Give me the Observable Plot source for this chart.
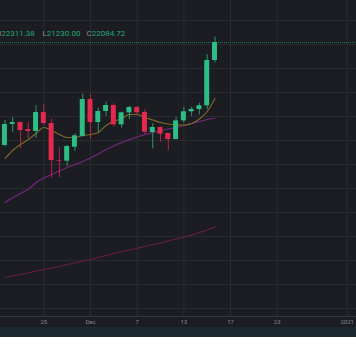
<!DOCTYPE html>
<html><head><meta charset="utf-8">
<script src="https://cdn.jsdelivr.net/npm/d3@7"></script>
<script src="https://cdn.jsdelivr.net/npm/@observablehq/plot@0.6"></script>
<style>
html,body{margin:0;padding:0;background:#ffffff;}
#wrap{position:relative;width:356px;background:#1c1d22;overflow:hidden;}
#hdr span{position:absolute;top:29px;font:8px Roboto,sans-serif;white-space:nowrap;color:#22a876;}
#hdr b{font-weight:normal;color:#8b8d93;}
#strip{height:10px;background:#1c2a30;}
svg{display:block;}
</style></head><body>
<div id="wrap"><div id="chart"></div>
<div id="hdr"><span id="h1" style="left:-4.5px"></span><span id="h2" style="left:42.5px"></span><span id="h3" style="left:86.5px"></span></div>
<div id="strip"></div></div>
<script>
const dates = ["2020-11-20","2020-11-21","2020-11-22","2020-11-23","2020-11-24","2020-11-25","2020-11-26","2020-11-27","2020-11-28","2020-11-29","2020-11-30",
"2020-12-01","2020-12-02","2020-12-03","2020-12-04","2020-12-05","2020-12-06","2020-12-07","2020-12-08","2020-12-09","2020-12-10","2020-12-11","2020-12-12","2020-12-13","2020-12-14","2020-12-15","2020-12-16","2020-12-17"];
const opens  = [17793,18668,18750,18460,18380,19168,18710,17168,17140,17722,18168,19710,18751,19210,19460,18655,19155,19376,19168,18334,18543,18293,18043,18820,19197,19293,19447,21335];
const highs  = [18834,18960,18770,18750,19460,19500,18900,17710,17790,18280,19918,19918,19340,19597,19530,19180,19420,19420,19293,18697,18560,18300,18972,19389,19389,19555,21585,22311.38];
const lows   = [17740,18334,17668,18084,18084,18620,16418,16460,16918,17555,18140,18043,18330,19000,18570,18513,18876,19043,18250,17655,17930,17584,18020,18720,19000,19072,19290,21230.00];
const closes = [18668,18750,18418,18380,19168,18710,17168,17140,17750,18197,19710,18750,19210,19460,18655,19155,19376,19155,18347,18543,18264,18043,18820,19197,19293,19447,21335,22084.72];
const maFast = [17251,17585,17835,18043,18293,18543,18418,18251,18126,18126,18210,18251,18335,18626,18793,18918,19085,19085,18960,18856,18751,18689,18647,18647,18710,18897,19210,19751];
const maMid  = [15418,15626,15793,15960,16251,16439,16585,16731,16876,17001,17126,17272,17439,17626,17772,17918,18043,18147,18251,18335,18418,18481,18543,18626,18710,18793,18876,18939];
const maSlow = [12293,12356,12418,12481,12564,12626,12689,12751,12835,12897,12980,13043,13126,13210,13293,13376,13439,13514,13585,13668,13730,13814,13897,13972,14064,14168,14272,14397];
const tickDays   = [-6,0,6,12,18,24,33];
const tickLabels = ["25","Dec","7","13","17","23","2021"];
const header = [["H","22311.38"],["L","21230.00"],["C","22084.72"]];

const UP = "#2dbd85", DOWN = "#e3294d";
const day0 = new Date("2020-12-01T00:00:00Z");
const rows = dates.map((d,k)=>({
  i: (new Date(d+"T00:00:00Z") - day0)/864e5,
  o: opens[k], h: highs[k], l: lows[k], c: closes[k],
  f: maFast[k], m: maMid[k], s: maSlow[k],
  col: closes[k] >= opens[k] ? UP : DOWN
}));
const yDom = [10668, 23835];
const grid = d3.range(11000, 24000, 1000);
const fmt = (d) => tickLabels[tickDays.indexOf(d)];

const chart = Plot.plot({
  width: 356, height: 327,
  marginTop: 0, marginRight: 0, marginBottom: 11, marginLeft: 0,
  style: {background: "#1c1d22", color: "#85878d", fontSize: "6px", fontFamily: "Roboto, sans-serif"},
  x: {type: "linear", domain: [-11.57, 34.19], axis: null, label: null},
  y: {domain: yDom, axis: null, label: null},
  color: {type: "identity"},
  marks: [
    Plot.gridY(grid, {stroke: "#2a2c32", strokeOpacity: 1}),
    Plot.gridX(tickDays, {stroke: "#2a2c32", strokeOpacity: 1}),
    Plot.frame({anchor: "bottom", stroke: "#34363d"}),
    Plot.axisX(tickDays, {anchor: "bottom", tickSize: 0, tickPadding: 3.5, tickFormat: fmt, fill: "#85878d", label: null}),
    Plot.ruleY([closes[closes.length-1]], {stroke: "#1f7555", strokeDasharray: "1,1", strokeWidth: 1.2}),
    Plot.line(rows, {x: "i", y: "s", stroke: "#6c1c48", strokeWidth: 1.1}),
    Plot.line(rows, {x: "i", y: "m", stroke: "#7a2680", strokeWidth: 1.1}),
    Plot.line(rows, {x: "i", y: "f", stroke: "#7f6a26", strokeWidth: 1.1, curve: "monotone-x"}),
    Plot.ruleX(rows, {x: "i", y1: "l", y2: "h", stroke: "col", strokeWidth: 1, strokeOpacity: 0.75}),
    Plot.rect(rows, {x1: d => d.i - 0.32, x2: d => d.i + 0.32, y1: "o", y2: "c", fill: "col"})
  ]
});
document.getElementById("chart").append(chart);
header.forEach(([k,v],n)=>{
  document.getElementById("h"+(n+1)).innerHTML = "<b>"+k+"</b>"+v;
});
</script>
</body></html>
